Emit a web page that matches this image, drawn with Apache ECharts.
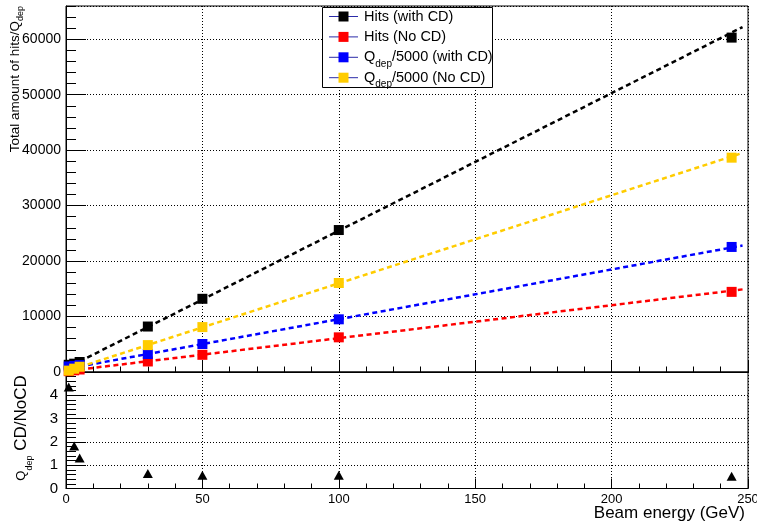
<!DOCTYPE html>
<html>
<head>
<meta charset="utf-8">
<script src="https://cdn.jsdelivr.net/npm/echarts@6/dist/echarts.min.js"></script>
<style>
html,body{margin:0;padding:0;background:#fff;}
#chart{width:757px;height:521px;}
</style>
</head>
<body>
<div id="chart"></div>
<script>
// ---------------- data ----------------
const energies      = [1, 3, 5, 30, 50, 100, 244];
const hitsWithCD    = [1300, 1500, 1800, 8200, 13200, 25600, 60300];
const hitsNoCD      = [150, 300, 450, 1900, 3100, 6250, 14450];
const qdepWithCD    = [1000, 1100, 1250, 3250, 5050, 9500, 22550];
const qdepNoCD      = [250, 600, 950, 4850, 8100, 16050, 38650];
const ratioQdep     = [4.36, 1.82, 1.31, 0.64, 0.57, 0.57, 0.53];

const fitRange      = [5, 248];
const fitHitsWithCD = [1900, 62200];
const fitHitsNoCD   = [450, 14900];
const fitQdepWithCD = [1000, 22800];
const fitQdepNoCD   = [900, 39500];

const xTickValues       = [0, 50, 100, 150, 200, 250];
const yTopTickValues    = [0, 10000, 20000, 30000, 40000, 50000, 60000];
const yBottomTickValues = [0, 1, 2, 3, 4];

const seriesNames = ['Hits (with CD)', 'Hits (No CD)', 'Qdep/5000 (with CD)', 'Qdep/5000 (No CD)'];
const legendLabels = ['{m|Hits (with CD)}', '{m|Hits (No CD)}', '{m|Q}{s|dep}{m|/5000 (with CD)}', '{m|Q}{s|dep}{m|/5000 (No CD)}'];
const seriesColors = ['#000000', '#ff0000', '#0000ff', '#ffcc00'];

// ---------------- chart ----------------
const FONT = "'Liberation Sans', Arial, Helvetica, sans-serif";
const chart = echarts.init(document.getElementById('chart'), null, {renderer: 'canvas'});

const markerSets = [hitsWithCD, hitsNoCD, qdepWithCD, qdepNoCD];
const fitSets = [fitHitsWithCD, fitHitsNoCD, fitQdepWithCD, fitQdepNoCD];

const xInterval = xTickValues[1] - xTickValues[0];
const yTopInterval = yTopTickValues[1] - yTopTickValues[0];
const yBotInterval = yBottomTickValues[1] - yBottomTickValues[0];

const dotted = () => ({show: true, lineStyle: {color: '#000', width: 1, type: [1, 2]}});
const bl = () => ({color: '#000', width: 1});
const plain = v => String(v);

const series = [];
fitSets.forEach((f, i) => {
  series.push({
    name: seriesNames[i] + ' fit', type: 'line', xAxisIndex: 0, yAxisIndex: 0,
    data: fitRange.map((x, j) => [x, f[j]]),
    symbol: 'none', silent: true, z: 2,
    lineStyle: {color: seriesColors[i], width: 2.5, type: [5, 3.5]}
  });
});
markerSets.forEach((d, i) => {
  series.push({
    name: seriesNames[i], type: 'scatter', xAxisIndex: 0, yAxisIndex: 0,
    data: energies.map((x, j) => [x, d[j]]),
    symbol: 'rect', symbolSize: 10, z: 3,
    itemStyle: {color: seriesColors[i], opacity: 1}
  });
});
series.push({
  name: 'ratio', type: 'scatter', xAxisIndex: 1, yAxisIndex: 2,
  data: energies.map((x, j) => [x, ratioQdep[j]]),
  symbol: 'triangle', symbolSize: [10, 9], z: 3,
  itemStyle: {color: '#000', opacity: 1}
});

// legend built as graphic elements
const graphic = [];
graphic.push({type: 'rect', z: 100, shape: {x: 322.5, y: 7.5, width: 170, height: 80},
  style: {fill: '#fff', stroke: '#000', lineWidth: 1}});
legendLabels.forEach((lab, i) => {
  const cy = 16.5 + i * 20.4;
  graphic.push({type: 'line', z: 101, shape: {x1: 329, y1: cy, x2: 358, y2: cy},
    style: {stroke: '#2b2ba8', lineWidth: 1}});
  graphic.push({type: 'rect', z: 102, shape: {x: 338.5, y: cy - 5, width: 10, height: 10},
    style: {fill: seriesColors[i]}});
  graphic.push({type: 'text', z: 102, x: 364, y: cy,
    style: {text: lab, align: 'left', verticalAlign: 'middle', fill: '#000',
      rich: {
        m: {fontSize: 14.5, fontFamily: FONT, lineHeight: 24, fill: '#000', color: '#000'},
        s: {fontSize: 10, fontFamily: FONT, lineHeight: 12, verticalAlign: 'bottom', fill: '#000', color: '#000'}
      }}});
});
// axis titles
graphic.push({type: 'text', z: 50, x: 15.5, y: 6, rotation: Math.PI / 2,
  style: {text: '{m|Total amount of hits/Q}{s|dep}', align: 'right', verticalAlign: 'middle', fill: '#000',
    rich: {
      m: {fontSize: 13.5, fontFamily: FONT, lineHeight: 20, fill: '#000', color: '#000'},
      s: {fontSize: 9, fontFamily: FONT, lineHeight: 10, verticalAlign: 'bottom', fill: '#000', color: '#000'}
    }}});
graphic.push({type: 'text', z: 50, x: 21, y: 428, rotation: Math.PI / 2,
  style: {text: '{q|Q}{s|dep}{m| CD/NoCD}', align: 'center', verticalAlign: 'middle', fill: '#000',
    rich: {
      q: {fontSize: 13, fontFamily: FONT, lineHeight: 26, fill: '#000', color: '#000'},
      m: {fontSize: 17, fontFamily: FONT, lineHeight: 26, fill: '#000', color: '#000'},
      s: {fontSize: 9, fontFamily: FONT, lineHeight: 10, verticalAlign: 'bottom', fill: '#000', color: '#000'}
    }}});
graphic.push({type: 'text', z: 50, x: 745, y: 513,
  style: {text: 'Beam energy (GeV)', align: 'right', verticalAlign: 'middle', fill: '#000',
    font: '17px ' + FONT}});

const option = {
  animation: false,
  backgroundColor: '#fff',
  grid: [
    {left: 66, top: 6, width: 682, height: 366, show: true, borderColor: '#000', borderWidth: 1,
      backgroundColor: 'transparent', containLabel: false, outerBoundsMode: 'none'},
    {left: 66, top: 372, width: 682, height: 116.5, show: true, borderColor: '#000', borderWidth: 1,
      backgroundColor: 'transparent', containLabel: false, outerBoundsMode: 'none'}
  ],
  xAxis: [
    {gridIndex: 0, type: 'value', min: xTickValues[0], max: xTickValues[xTickValues.length - 1], interval: xInterval,
      axisLine: {show: true, onZero: false, lineStyle: bl()},
      axisTick: {show: true, inside: true, length: 11, lineStyle: bl()},
      minorTick: {show: true, splitNumber: 5, length: 5.5, lineStyle: bl()},
      axisLabel: {show: false}, splitLine: dotted()},
    {gridIndex: 1, type: 'value', min: xTickValues[0], max: xTickValues[xTickValues.length - 1], interval: xInterval,
      axisLine: {show: true, onZero: false, lineStyle: bl()},
      axisTick: {show: true, inside: true, length: 10, lineStyle: bl()},
      minorTick: {show: true, splitNumber: 5, length: 5, lineStyle: bl()},
      axisLabel: {show: true, fontSize: 13, fontFamily: FONT, color: '#000', margin: 4, formatter: plain},
      splitLine: dotted()}
  ],
  yAxis: [
    {gridIndex: 0, type: 'value', position: 'left', min: yTopTickValues[0], max: 66000, interval: yTopInterval,
      axisLine: {show: true, onZero: false, lineStyle: bl()},
      axisTick: {show: true, inside: true, length: 20, lineStyle: bl()},
      minorTick: {show: false},
      axisLabel: {show: true, fontSize: 14, fontFamily: FONT, color: '#000', margin: 5, showMaxLabel: false, formatter: plain},
      splitLine: dotted()},
    {gridIndex: 0, type: 'value', position: 'left', offset: 0, min: yTopTickValues[0], max: 66000, interval: yTopInterval / 5,
      axisLine: {show: false},
      axisTick: {show: true, inside: true, length: 10, lineStyle: bl()},
      axisLabel: {show: false}, splitLine: {show: false}},
    {gridIndex: 1, type: 'value', position: 'left', min: yBottomTickValues[0], max: 5, interval: yBotInterval,
      axisLine: {show: true, onZero: false, lineStyle: bl()},
      axisTick: {show: true, inside: true, length: 20, lineStyle: bl()},
      minorTick: {show: true, splitNumber: 5, length: 10, lineStyle: bl()},
      axisLabel: {show: true, fontSize: 15, fontFamily: FONT, color: '#000', margin: 8, showMaxLabel: false, formatter: plain},
      splitLine: dotted()}
  ],
  graphic: {elements: graphic},
  series: series
};
chart.setOption(option);
</script>
</body>
</html>
